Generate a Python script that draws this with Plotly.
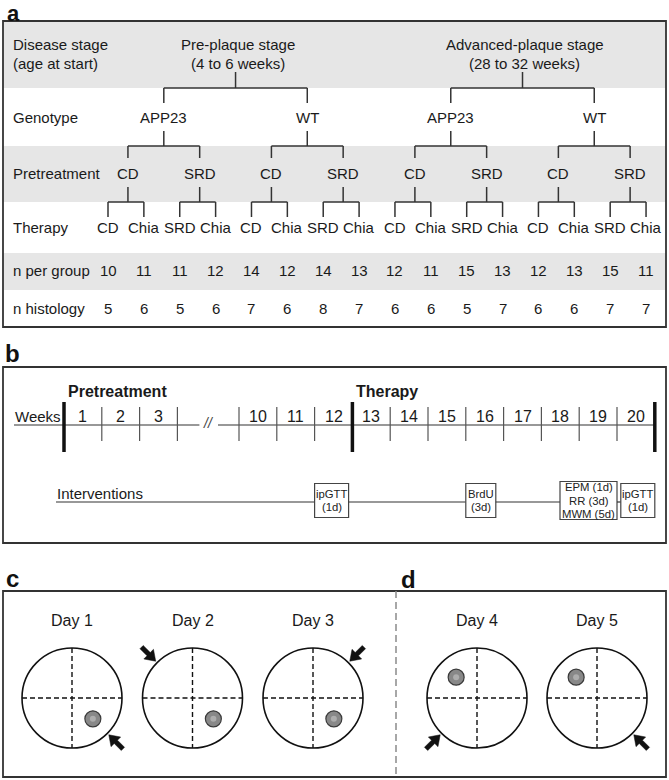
import math
import plotly.graph_objects as go

# ---------------- Data ----------------
row_labels = ["Disease stage", "(age at start)", "Genotype", "Pretreatment", "Therapy", "n per group", "n histology"]
stage_labels = [["Pre-plaque stage", "(4 to 6 weeks)"], ["Advanced-plaque stage", "(28 to 32 weeks)"]]
genotype_labels = ["APP23", "WT", "APP23", "WT"]
pretreatment_labels = ["CD", "SRD", "CD", "SRD", "CD", "SRD", "CD", "SRD"]
therapy_labels = ["CD", "Chia", "SRD", "Chia", "CD", "Chia", "SRD", "Chia",
                  "CD", "Chia", "SRD", "Chia", "CD", "Chia", "SRD", "Chia"]
n_per_group = [10, 11, 11, 12, 14, 12, 14, 13, 12, 11, 15, 13, 12, 13, 15, 11]
n_histology = [5, 6, 5, 6, 7, 6, 8, 7, 6, 6, 5, 7, 6, 6, 7, 7]

week_groups = [["1", "2", "3"], ["10", "11", "12", "13", "14", "15", "16", "17", "18", "19", "20"]]
phase_labels = ["Pretreatment", "Therapy"]
phase_start_week = ["1", "13"]
intervention_labels = [["ipGTT", "(1d)"], ["BrdU", "(3d)"], ["EPM (1d)", "RR (3d)", "MWM (5d)"], ["ipGTT", "(1d)"]]
intervention_week = ["12", "16", "19", "20"]
intervention_align = ["start", "start", "end", "end"]

days_c = ["Day 1", "Day 2", "Day 3"]
days_d = ["Day 4", "Day 5"]
platform_quadrant = ["SE", "SE", "SE", "NW", "NW"]
start_position = ["SE", "NW", "NE", "SW", "SE"]

# ---------------- Style ----------------
W, H = 669, 780
FONT = "Liberation Sans, Arial, sans-serif"
TXT = "#1a1a1a"
LN = "#333333"
BAND = "#e6e6e6"

shapes = []
annotations = []


def text(x, y, s, size=15, anchor="center", color=TXT, yanchor="middle"):
    annotations.append(dict(x=x, y=y, xref="x", yref="y", text=s, showarrow=False,
                            xanchor=anchor, yanchor=yanchor, borderpad=0,
                            font=dict(size=size, family=FONT, color=color)))


def line(x0, y0, x1, y1, width=1.5, color=LN, dash=None, layer="above"):
    d = dict(type="line", x0=x0, y0=y0, x1=x1, y1=y1, xref="x", yref="y",
             line=dict(color=color, width=width), layer=layer)
    if dash:
        d["line"]["dash"] = dash
    shapes.append(d)


def rect(x0, y0, x1, y1, fill=None, lc=LN, lw=1.5, layer="above"):
    d = dict(type="rect", x0=x0, y0=y0, x1=x1, y1=y1, xref="x", yref="y", layer=layer,
             line=dict(color=lc, width=lw) if lc else dict(width=0))
    if fill:
        d["fillcolor"] = fill
    shapes.append(d)


def panel_label(x, baseline, s, size=24):
    text(x, baseline - 0.3465 * size, "<b>%s</b>" % s, size=size, anchor="left", color="#111")


# ================= Panel a =================
AX0, AX1 = 3, 666
A_TOP, A_BOT = 21, 327
bands = [(21, 88), (146, 202), (253, 290)]
for y0, y1 in bands:
    rect(AX0, y0, AX1, y1, fill=BAND, lc=None, layer="below")
rect(AX0, A_TOP, AX1, A_BOT, lw=1.8)
text(6, 0, "<b>a</b>", size=22, anchor="left", color="#111", yanchor="top")

row_y = [44, 63, 117, 173.5, 227, 270, 308]
for lab, y in zip(row_labels, row_y):
    text(12, y, lab, anchor="left")

leaf_x0, leaf_dx = 108, 35.87
leaf_x = [leaf_x0 + i * leaf_dx for i in range(len(therapy_labels))]
pre_x = [(leaf_x[2 * i] + leaf_x[2 * i + 1]) / 2 + 2 for i in range(len(pretreatment_labels))]
geno_x = [(pre_x[2 * i] + pre_x[2 * i + 1]) / 2 for i in range(len(genotype_labels))]
stage_x = [(geno_x[2 * i] + geno_x[2 * i + 1]) / 2 for i in range(len(stage_labels))]


def branch(parent_xs, child_xs, stem_top, bar_y, child_bot):
    for i, px in enumerate(parent_xs):
        c0, c1 = child_xs[2 * i], child_xs[2 * i + 1]
        line(px, stem_top, px, bar_y)
        line(c0, bar_y, c1, bar_y)
        line(c0, bar_y, c0, child_bot)
        line(c1, bar_y, c1, child_bot)


branch(stage_x, geno_x, 72, 88, 103)
branch(geno_x, pre_x, 131, 146, 158)
branch(pre_x, leaf_x, 187, 202, 217)

for x, (l1, l2) in zip(stage_x, stage_labels):
    text(x + 2, 44, l1)
    text(x + 2, 63, l2)
for x, lab in zip(geno_x, genotype_labels):
    text(x, 117, lab)
for x, lab in zip(pre_x, pretreatment_labels):
    text(x, 173.5, lab)
for x, lab in zip(leaf_x, therapy_labels):
    text(x, 227, lab)
for x, v in zip(leaf_x, n_per_group):
    text(x, 270, str(v))
for x, v in zip(leaf_x, n_histology):
    text(x, 308, str(v))

# ================= Panel b =================
B_TOP, B_BOT = 367, 543
rect(AX0, B_TOP, AX1, B_BOT, lw=1.8)
panel_label(4, 362, "b")

TL_Y = 425
week_step = 37.8
group_start = [64, 239]
week_cells = {}
for g, labs in enumerate(week_groups):
    for i, lab in enumerate(labs):
        x0 = group_start[g] + i * week_step
        week_cells[lab] = (x0, x0 + week_step)

break_left = week_cells["3"][1] + 22
break_right = week_cells["10"][0] - 21
line(14, TL_Y, break_left, TL_Y, width=1.2)
line(break_right, TL_Y, week_cells["20"][1] + 1, TL_Y, width=1.2)
text((break_left + break_right) / 2, TL_Y - 2, "<i>//</i>", size=14, color="#444")
text(14, 416, "Weeks", anchor="left")

thick_edges = [week_cells[w][0] for w in phase_start_week] + [week_cells["20"][1]]
all_edges = set()
for lab, (x0, x1) in week_cells.items():
    all_edges.add(round(x0, 1))
    all_edges.add(round(x1, 1))
for e in sorted(all_edges):
    if any(abs(e - t) < 1 for t in thick_edges):
        line(e, 402, e, 452, width=3.5, color="#111")
    else:
        line(e, 407, e, 441, width=1.2, color="#555")
for lab, (x0, x1) in week_cells.items():
    text((x0 + x1) / 2, 416, lab, size=16)

for lab, w in zip(phase_labels, phase_start_week):
    text(week_cells[w][0] + 3, 391, "<b>%s</b>" % lab, size=16, anchor="left")

# interventions
text(56, 493, "Interventions", anchor="left")
IV_Y = 502
boxes = []
for labs, wk, al in zip(intervention_labels, intervention_week, intervention_align):
    wdt = 57 if len(labs) == 3 else (30 if labs[0] == "BrdU" else 34)
    if al == "start":
        x0 = week_cells[wk][0]
    else:
        x0 = week_cells[wk][1] - wdt
    hgt = 38 if len(labs) == 3 else 34
    boxes.append((x0, x0 + wdt, labs, hgt))
prev = 56
for x0, x1, labs, hgt in boxes:
    line(prev, IV_Y, x0, IV_Y, width=1.2)
    prev = x1
    cy = 500.5
    rect(x0, cy - hgt / 2, x1, cy + hgt / 2, fill="white", lc="#444", lw=1.2)
    n = len(labs)
    for k, s in enumerate(labs):
        text((x0 + x1) / 2, cy + (k - (n - 1) / 2) * 13.5, s, size=11.3, color="#222")

# ================= Panels c / d =================
C_TOP, C_BOT = 591, 777
DIV_X = 396
rect(AX0, C_TOP, AX1, C_BOT, lw=1.8)
line(DIV_X, C_TOP, DIV_X, C_BOT, width=1.5, color="#8a8a8a", dash="7px,4px")
panel_label(5, 587, "c")
panel_label(400, 588, "d")

CY = 698
R = 50
day_labels = days_c + days_d
day_x = [72 + 120.5 * i for i in range(len(days_c))] + [477 + 120 * i for i in range(len(days_d))]
dirs = {"SE": 45, "NE": -45, "SW": 135, "NW": 225}

for i, (lab, cx) in enumerate(zip(day_labels, day_x)):
    text(cx, 620.5, lab, size=16)
    shapes.append(dict(type="circle", xref="x", yref="y", x0=cx - R, x1=cx + R, y0=CY - R, y1=CY + R,
                       line=dict(color="#111", width=1.6)))
    line(cx - R, CY, cx + R, CY, width=1.4, color="#111", dash="5px,3px")
    line(cx, CY - R, cx, CY + R, width=1.4, color="#111", dash="5px,3px")
    # platform
    a = math.radians(dirs[platform_quadrant[i]])
    px, py = cx + 29.5 * math.cos(a), CY + 29.5 * math.sin(a)
    shapes.append(dict(type="circle", xref="x", yref="y", x0=px - 8, x1=px + 8, y0=py - 8, y1=py + 8,
                       fillcolor="#888888", line=dict(color="#3a3a3a", width=1.2)))
    shapes.append(dict(type="circle", xref="x", yref="y", x0=px - 3, x1=px + 3, y0=py - 3, y1=py + 3,
                       fillcolor="#adadad", line=dict(width=0)))
    # arrow (pointing inward toward the start position on the rim)
    a = math.radians(dirs[start_position[i]])
    ux, uy = math.cos(a), math.sin(a)
    nx, ny = -uy, ux
    tip = (cx + 52 * ux, CY + 52 * uy)
    tail = (cx + 72 * ux, CY + 72 * uy)
    neck = (tip[0] + 10 * ux, tip[1] + 10 * uy)
    sw, hw = 2.3, 6.8
    pts = [
        (tail[0] + nx * sw, tail[1] + ny * sw),
        (neck[0] + nx * sw, neck[1] + ny * sw),
        (neck[0] + nx * hw, neck[1] + ny * hw),
        tip,
        (neck[0] - nx * hw, neck[1] - ny * hw),
        (neck[0] - nx * sw, neck[1] - ny * sw),
        (tail[0] - nx * sw, tail[1] - ny * sw),
    ]
    path = "M " + " L ".join("%.2f,%.2f" % p for p in pts) + " Z"
    shapes.append(dict(type="path", xref="x", yref="y", path=path, fillcolor="#111",
                       line=dict(color="#111", width=0.5)))

fig = go.Figure(go.Scatter(x=[0, W], y=[0, H], mode="markers", marker=dict(opacity=0), hoverinfo="skip",
                           showlegend=False))
fig.update_layout(
    width=W, height=H, margin=dict(l=0, r=0, t=0, b=0),
    paper_bgcolor="white", plot_bgcolor="white",
    xaxis=dict(range=[0, W], visible=False, fixedrange=True),
    yaxis=dict(range=[H, 0], visible=False, fixedrange=True),
    shapes=shapes, annotations=annotations, showlegend=False,
)
fig.write_html("out.html", config={"displayModeBar": False},
               post_script="document.body.style.margin='0';document.body.style.padding='0';document.body.style.overflow='hidden';")
